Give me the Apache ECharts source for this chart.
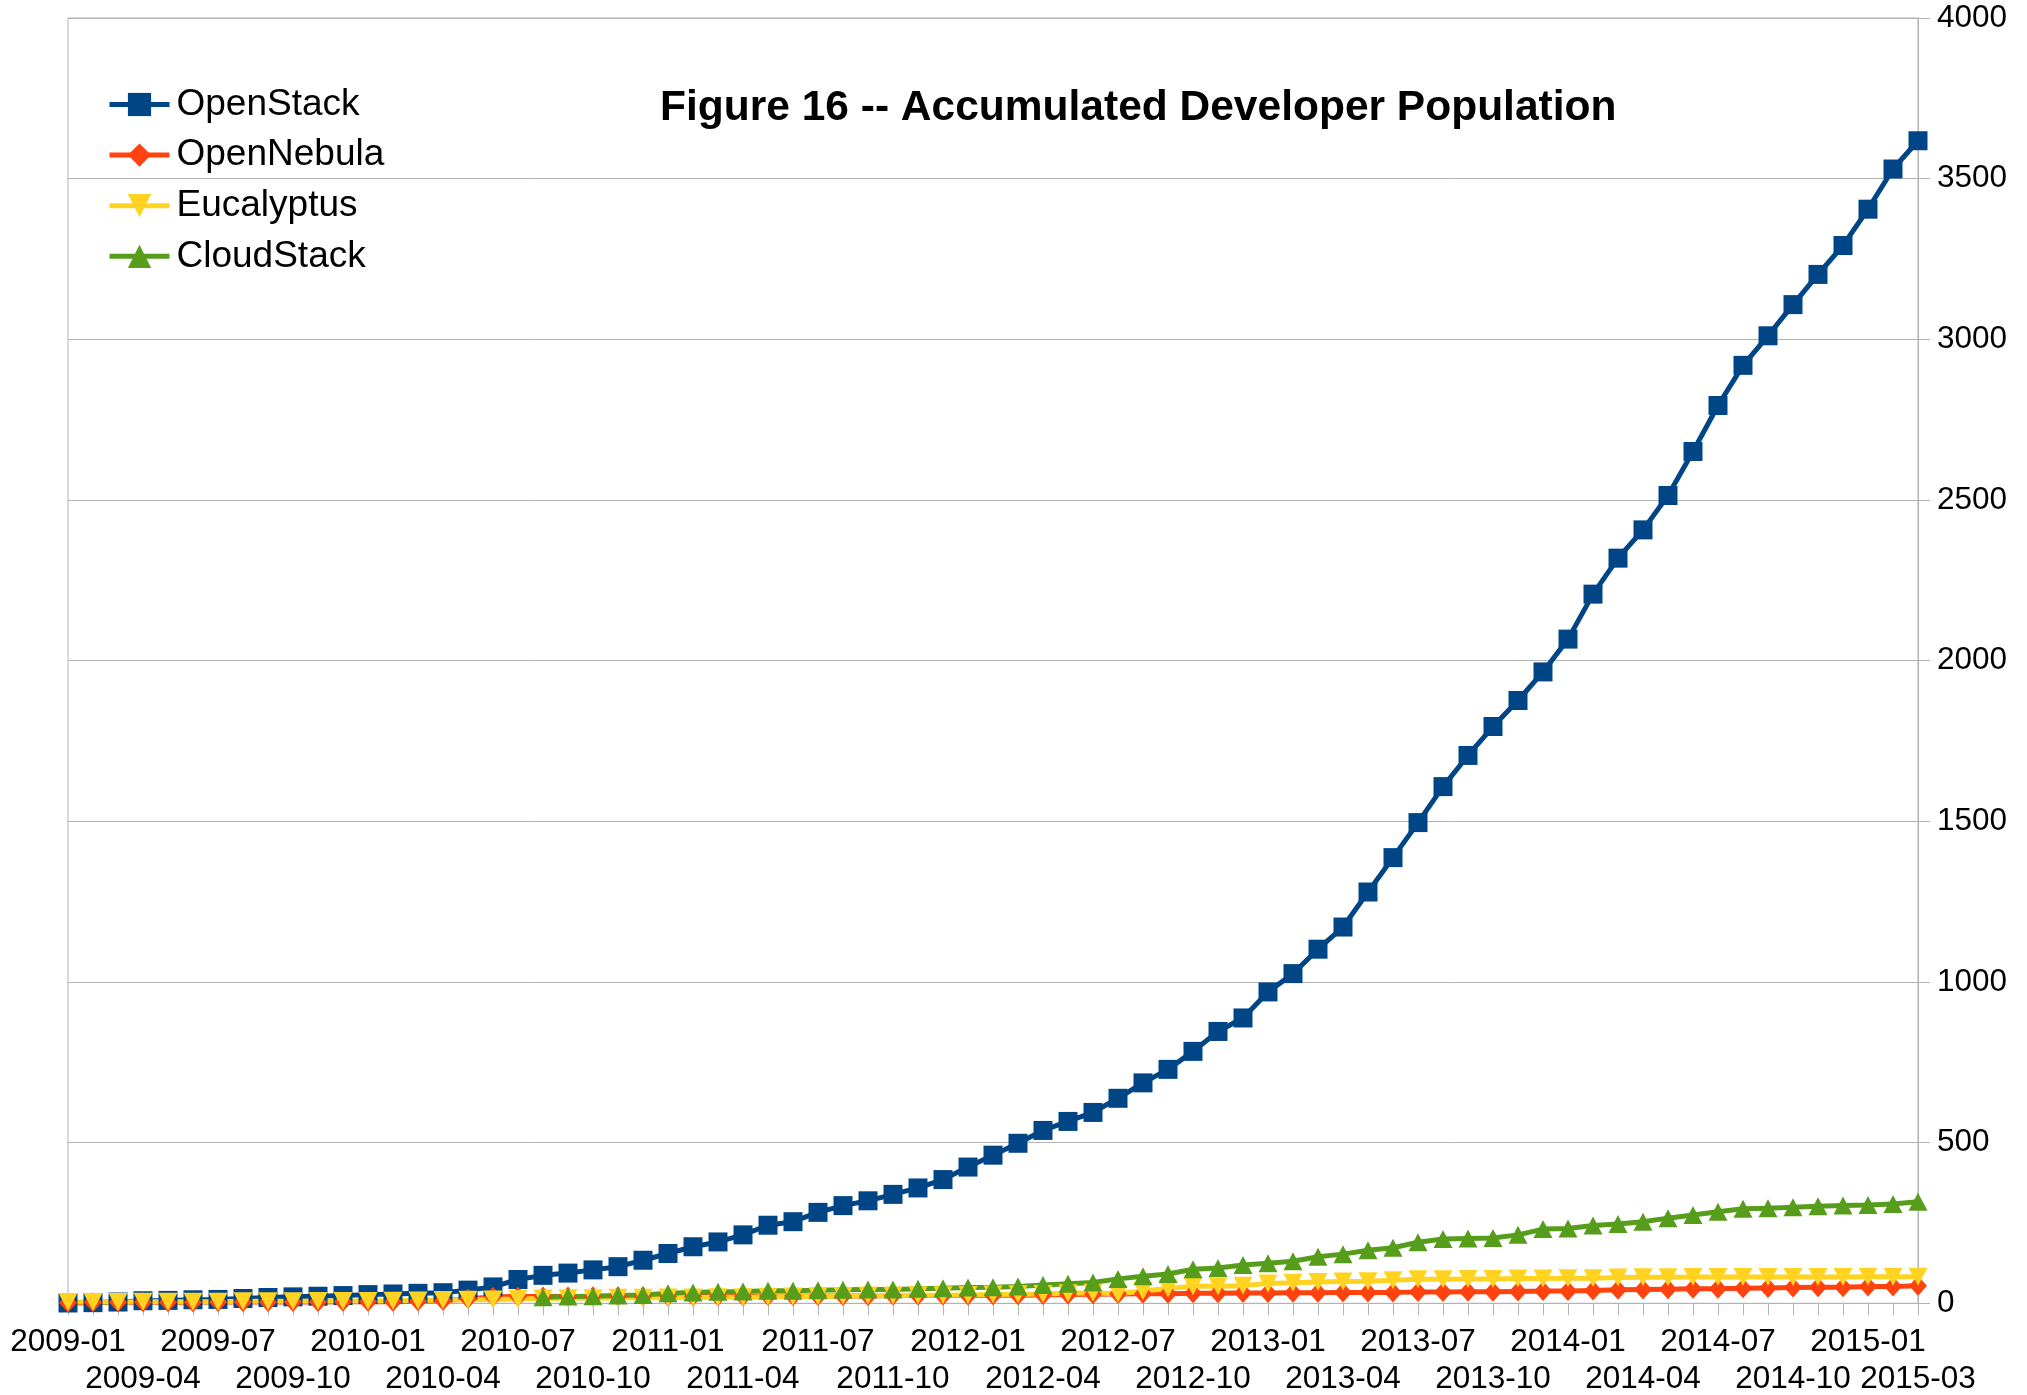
<!DOCTYPE html>
<html><head><meta charset="utf-8">
<script src="https://cdn.jsdelivr.net/npm/echarts@6/dist/echarts.min.js"></script>
<style>html,body{margin:0;padding:0;background:#fff}#c{width:2027px;height:1395px}</style>
</head><body><div id="c"></div>
<script>
const months = [
'2009-01','2009-02','2009-03','2009-04','2009-05','2009-06','2009-07','2009-08','2009-09','2009-10','2009-11','2009-12',
'2010-01','2010-02','2010-03','2010-04','2010-05','2010-06','2010-07','2010-08','2010-09','2010-10','2010-11','2010-12',
'2011-01','2011-02','2011-03','2011-04','2011-05','2011-06','2011-07','2011-08','2011-09','2011-10','2011-11','2011-12',
'2012-01','2012-02','2012-03','2012-04','2012-05','2012-06','2012-07','2012-08','2012-09','2012-10','2012-11','2012-12',
'2013-01','2013-02','2013-03','2013-04','2013-05','2013-06','2013-07','2013-08','2013-09','2013-10','2013-11','2013-12',
'2014-01','2014-02','2014-03','2014-04','2014-05','2014-06','2014-07','2014-08','2014-09','2014-10','2014-11','2014-12',
'2015-01','2015-02','2015-03'];
const labelsRow1 = ['2009-01','2009-07','2010-01','2010-07','2011-01','2011-07','2012-01','2012-07','2013-01','2013-07','2014-01','2014-07','2015-01'];
const labelsRow2 = ['2009-04','2009-10','2010-04','2010-10','2011-04','2011-10','2012-04','2012-10','2013-04','2013-10','2014-04','2014-10','2015-03'];
const seriesNames = ['OpenStack','OpenNebula','Eucalyptus','CloudStack'];
const openStack = [1,2,4,8,9,11,12,15,18,20,22,24,27,29,31,33,41,51,74,87,94,104,114,134,155,176,191,213,243,254,283,304,319,339,359,385,424,461,498,538,566,594,638,686,728,784,846,888,969,1026,1102,1171,1280,1387,1496,1608,1705,1795,1876,1965,2067,2207,2319,2407,2514,2651,2794,2919,3011,3108,3202,3292,3405,3530,3618];
const openNebula = [2,3,3,3,3,3,4,4,4,4,4,5,5,5,6,8,14,20,21,21,21,22,22,22,22,22,22,22,23,23,23,23,23,24,24,24,24,25,25,26,27,28,29,30,30,31,31,32,32,33,33,34,34,34,35,35,36,36,37,38,38,40,42,43,44,45,45,47,48,49,50,50,52,52,55];
const eucalyptus = [4,4,4,5,5,5,5,6,6,6,7,7,7,8,9,10,11,12,13,15,16,16,17,17,18,18,19,19,20,21,22,23,24,24,25,25,26,27,28,29,31,33,30,38,46,53,53,55,62,64,66,68,69,72,75,75,76,76,77,77,78,78,80,81,81,82,82,82,82,82,82,82,83,83,83];
const cloudStack = [null,null,null,null,null,null,null,null,null,null,null,null,null,null,null,null,null,null,null,19,21,22,24,26,31,34,36,37,39,39,41,42,43,43,45,47,49,50,52,57,61,65,76,84,91,106,110,119,125,131,145,153,165,173,190,200,202,203,213,231,233,242,247,254,265,275,285,294,296,299,302,304,306,309,316];
const colors = ['#004586','#ff420e','#ffd320','#579d1c'];

const FONT = '"Liberation Sans", Arial, sans-serif';
const chart = echarts.init(document.getElementById('c'), null, {renderer:'canvas'});
function mk(name, data, color, symbol, size, rotate) {
  return {
    name: name, type: 'line', data: data, symbol: symbol, symbolSize: size,
    symbolRotate: rotate || 0, showAllSymbol: true, connectNulls: false,
    xAxisIndex: 0, yAxisIndex: 0,
    itemStyle: {color: color}, lineStyle: {color: color, width: 5},
    emphasis: {disabled: true}
  };
}
function labelAxis(list, margin, main) {
  return {
    type: 'category', data: months, boundaryGap: false, position: 'bottom', gridIndex: 0,
    axisLine: {show: main, lineStyle: {color: '#b3b3b3', width: 1}},
    axisTick: {show: main, interval: 0, length: 12, lineStyle: {color: '#b3b3b3'}},
    axisLabel: {
      interval: function (i, v) { return list.indexOf(v) >= 0; },
      hideOverlap: false,
      margin: margin, fontFamily: FONT, fontSize: 31.5, color: '#000', lineHeight: 36
    },
    splitLine: {show: false}
  };
}
chart.setOption({
  animation: false,
  backgroundColor: '#ffffff',
  title: {
    text: 'Figure 16 -- Accumulated Developer Population',
    left: 660, top: 83, padding: 0,
    textStyle: {fontFamily: FONT, fontSize: 42.5, fontWeight: 'bold', color: '#000', lineHeight: 50}
  },
  legend: {
    orient: 'vertical', left: 107, top: 86, padding: 0,
    itemWidth: 60, itemHeight: 29, itemGap: 13.6,
    lineStyle: {width: 5},
    textStyle: {fontFamily: FONT, fontSize: 37, color: '#000', lineHeight: 36, padding: [0,0,0,2]},
    data: seriesNames
  },
  grid: {left: 68, right: 109, top: 18, bottom: 91.7, show: true, borderColor: '#b3b3b3', borderWidth: 1, outerBoundsMode: 'none'},
  xAxis: [
    labelAxis(labelsRow1, 21.5, true),
    labelAxis(labelsRow2, 58, false)
  ],
  yAxis: {
    type: 'value', position: 'right', min: 0, max: 4000, interval: 500,
    axisLine: {show: true, lineStyle: {color: '#b3b3b3'}},
    axisTick: {show: true, length: 12, lineStyle: {color: '#b3b3b3'}},
    axisLabel: {margin: 19, fontFamily: FONT, fontSize: 31.5, color: '#000', formatter: function (v) { return String(v); }},
    splitLine: {lineStyle: {color: '#b3b3b3', width: 1}}
  },
  series: [
    mk(seriesNames[0], openStack, colors[0], 'rect', 19),
    mk(seriesNames[1], openNebula, colors[1], 'diamond', [18, 20]),
    mk(seriesNames[2], eucalyptus, colors[2], 'triangle', [19, 18], 180),
    mk(seriesNames[3], cloudStack, colors[3], 'triangle', [19, 18])
  ]
});
</script></body></html>
